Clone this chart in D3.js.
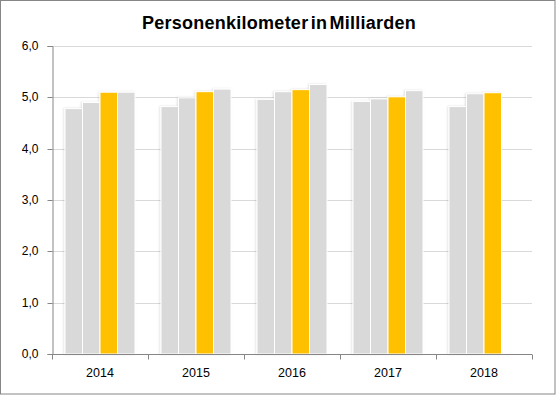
<!DOCTYPE html>
<html>
<head>
<meta charset="utf-8">
<script src="https://cdn.jsdelivr.net/npm/d3@7"></script>
<style>
  html, body { margin: 0; padding: 0; background: #fff; }
  svg { display: block; font-family: "Liberation Sans", Arial, sans-serif; }
</style>
</head>
<body>
<svg id="chart" width="556" height="395"></svg>
<script>
const title = "Personenkilometer in Milliarden";
const years = ["2014", "2015", "2016", "2017", "2018"];
const seriesKeys = ["s1", "s2", "s3", "s4"];
const s1 = [4.78, 4.82, 4.96, 4.92, 4.82];
const s2 = [4.90, 4.99, 5.11, 4.97, 5.07];
const s3 = [5.10, 5.11, 5.15, 5.01, 5.09];
const s4 = [5.10, 5.16, 5.25, 5.13, null];
const seriesValues = [s1, s2, s3, s4];
const seriesColors = ["#d9d9d9", "#d9d9d9", "#ffc000", "#d9d9d9"];
const yTicks = [0, 1, 2, 3, 4, 5, 6];

const svg = d3.select("#chart");
const W = 556, H = 395;
const m = { left: 52, right: 24, top: 46, bottom: 41 };

// outer frame
svg.append("rect").attr("x", 0.5).attr("y", 0.5).attr("width", W - 1.5).attr("height", H - 1.5)
  .attr("fill", "#fff").attr("stroke", "#868686").attr("stroke-width", 1);

// title
svg.append("text").attr("x", 279).attr("y", 28.5).attr("text-anchor", "middle")
  .attr("font-size", 18).attr("font-weight", "bold").attr("fill", "#000")
  .attr("letter-spacing", "0.25px")
  .attr("word-spacing", "-3px")
  .text(title);

const x0 = d3.scaleBand().domain(years).range([m.left, W - m.right]).padding(0);
const x1 = d3.scaleBand().domain(seriesKeys).range([13, 83]).padding(0);
const y = d3.scaleLinear().domain([0, 6]).range([H - m.bottom, m.top]);

// defs: soft shadow
const defs = svg.append("defs");
const f = defs.append("filter").attr("id", "sh").attr("x", "-20%").attr("y", "-5%").attr("width", "140%").attr("height", "110%");
f.append("feDropShadow").attr("dx", -1).attr("dy", 0).attr("stdDeviation", 1)
  .attr("flood-color", "#000").attr("flood-opacity", 0.12);

// gridlines
svg.append("g").selectAll("line").data(yTicks.filter(d => d > 0)).join("line")
  .attr("x1", m.left).attr("x2", W - m.right)
  .attr("y1", d => Math.round(y(d)) + 0.5).attr("y2", d => Math.round(y(d)) + 0.5)
  .attr("stroke", "#d9d9d9").attr("stroke-width", 1);

// bars
const rows = years.map((yr, i) => ({ year: yr, vals: seriesKeys.map((k, j) => ({ key: k, j, v: seriesValues[j][i] })) }));
const gBars = svg.append("g").attr("filter", "url(#sh)");
gBars.selectAll("g").data(rows).join("g")
  .attr("transform", d => `translate(${x0(d.year)},0)`)
  .selectAll("rect").data(d => d.vals.filter(v => v.v != null)).join("rect")
  .attr("x", d => x1(d.key))
  .attr("y", d => y(d.v))
  .attr("width", x1.bandwidth())
  .attr("height", d => y(0) - y(d.v))
  .attr("fill", d => seriesColors[d.j])
  .attr("stroke", "#fff").attr("stroke-width", 1);

// y axis
const yAxis = d3.axisLeft(y).tickValues(yTicks).tickSize(5).tickPadding(9)
  .tickFormat(d => d3.format(".1f")(d).replace(".", ","));
const gy = svg.append("g").attr("transform", `translate(${m.left + 0.5},0)`).call(yAxis);
gy.select(".domain").attr("stroke", "#868686");
gy.selectAll(".tick line").attr("stroke", "#868686");
gy.selectAll(".tick text").attr("font-size", 12).attr("fill", "#000").attr("font-family", "Liberation Sans, Arial, sans-serif");
gy.selectAll(".tick").attr("transform", d => `translate(0,${Math.round(y(d)) + 0.5})`);

// x axis
const gx = svg.append("g").attr("transform", `translate(0,${Math.round(y(0)) + 0.5})`);
gx.append("line").attr("x1", m.left).attr("x2", W - m.right).attr("stroke", "#868686");
const bounds = years.map(d => x0(d)).concat([x0(years[years.length - 1]) + x0.bandwidth()]);
gx.selectAll("line.t").data(bounds).join("line").attr("class", "t")
  .attr("x1", d => Math.round(d) + 0.5).attr("x2", d => Math.round(d) + 0.5)
  .attr("y1", 0).attr("y2", 5).attr("stroke", "#868686");
gx.selectAll("text").data(years).join("text")
  .attr("x", d => x0(d) + x0.bandwidth() / 2)
  .attr("y", 22).attr("text-anchor", "middle")
  .attr("font-size", 12.5).attr("fill", "#000")
  .text(d => d);
</script>
</body>
</html>
